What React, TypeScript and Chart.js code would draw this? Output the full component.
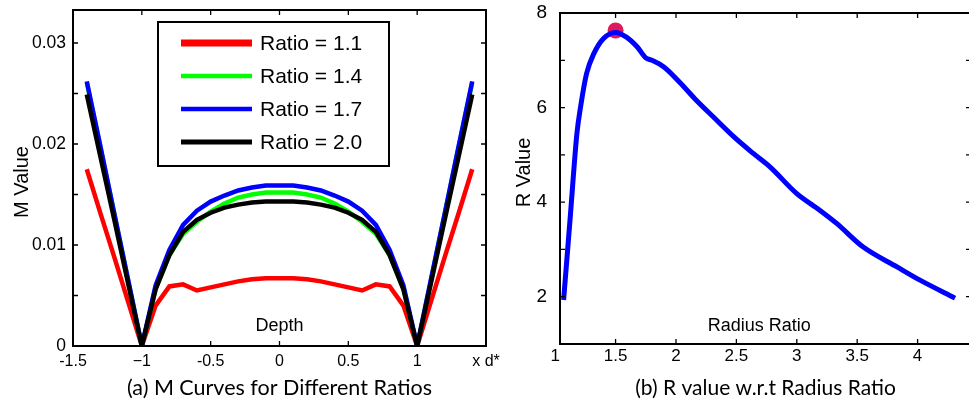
import React, { useEffect, useRef } from "react";
import { Chart, registerables } from "chart.js";

Chart.register(...registerables);

// ---------- Panel (a): M curves ----------
const depth = [
  -1.4, -1.3, -1.2, -1.1, -1.0, -0.9, -0.8, -0.7, -0.6, -0.5, -0.4, -0.3, -0.2, -0.1, 0,
  0.1, 0.2, 0.3, 0.4, 0.5, 0.6, 0.7, 0.8, 0.9, 1.0, 1.1, 1.2, 1.3, 1.4,
];
const mRatio11 = [
  0.0175, 0.0131, 0.0088, 0.0044, 0, 0.004, 0.0059, 0.0061, 0.0055, 0.0058, 0.0061, 0.0064, 0.0066, 0.0067, 0.0067,
  0.0067, 0.0066, 0.0064, 0.0061, 0.0058, 0.0055, 0.0061, 0.0059, 0.004, 0, 0.0044, 0.0088, 0.0131, 0.0175,
];
const mRatio14 = [
  0.0261, 0.0196, 0.0131, 0.0065, 0, 0.0057, 0.009, 0.0111, 0.0123, 0.0133, 0.0141, 0.0147, 0.015, 0.0152, 0.0152,
  0.0152, 0.015, 0.0147, 0.0141, 0.0133, 0.0123, 0.0111, 0.009, 0.0057, 0, 0.0065, 0.0131, 0.0196, 0.0261,
];
const mRatio17 = [
  0.0262, 0.0197, 0.0131, 0.0066, 0, 0.006, 0.0095, 0.012, 0.0134, 0.0143, 0.0149, 0.0154, 0.0157, 0.0159, 0.0159,
  0.0159, 0.0157, 0.0154, 0.0149, 0.0143, 0.0134, 0.012, 0.0095, 0.006, 0, 0.0066, 0.0131, 0.0197, 0.0262,
];
const mRatio20 = [
  0.0249, 0.0187, 0.0125, 0.0062, 0, 0.0056, 0.009, 0.0113, 0.0125, 0.0132, 0.0137, 0.014, 0.0142, 0.0143, 0.0143,
  0.0143, 0.0142, 0.014, 0.0137, 0.0132, 0.0125, 0.0113, 0.009, 0.0056, 0, 0.0062, 0.0125, 0.0187, 0.0249,
];
const ratioLabels = ["Ratio = 1.1", "Ratio = 1.4", "Ratio = 1.7", "Ratio = 2.0"];
const ratioColors = ["#ff0000", "#00ff00", "#0000ff", "#000000"];
const depthTicks = [-1.5, -1, -0.5, 0, 0.5, 1, 1.5];
const depthTickLabels = ["-1.5", "\u22121", "-0.5", "0", "0.5", "1", "x d*"];
const mTicks = [0, 0.005, 0.01, 0.015, 0.02, 0.025, 0.03];
const mTickLabels = ["0", "", "0.01", "", "0.02", "", "0.03"];

// ---------- Panel (b): R value ----------
const radiusRatio = [
  1.07, 1.125, 1.18, 1.21, 1.26, 1.32, 1.4, 1.5, 1.59, 1.68, 1.75, 1.8, 1.9, 2.04, 2.17, 2.31, 2.48, 2.64, 2.78,
  3.0, 3.19, 3.33, 3.55, 3.83, 4.02, 4.31,
];
const rValue = [
  1.93, 3.69, 5.45, 6.01, 6.72, 7.14, 7.46, 7.59, 7.49, 7.28, 7.05, 7.0, 6.86, 6.51, 6.15, 5.8, 5.38, 5.03, 4.74,
  4.18, 3.83, 3.55, 3.05, 2.63, 2.35, 1.97,
];
const bestRatio = [1.5];
const bestR = [7.63];
const ratioTicks = [1, 1.5, 2, 2.5, 3, 3.5, 4];
const ratioTickLabels = ["1", "1.5", "2", "2.5", "3", "3.5", "4"];
const rTicks = [1, 2, 3, 4, 5, 6, 7, 8];
const rTickLabels = ["", "2", "", "4", "", "6", "", "8"];

const SANS = '"Liberation Sans", Arial, sans-serif';
const CAPTION = 'Lato, "Open Sans", sans-serif';

type FrameCfg = {
  xMarks: number[];
  yMarks: number[];
  yTitle: string;
  yTitleX: number;
  yTitleDy: number;
  yTitleSize: number;
  innerTitle: string;
  innerTitleFrac: number;
  innerTitleY: number;
  caption: string;
  captionY: number;
  captionSize: number;
  legend?: { labels: string[]; colors: string[]; widths: number[] };
};

function framePlugin(cfg: FrameCfg) {
  return {
    id: "frame",
    afterDatasetsDraw(chart: any) {
      const { ctx, chartArea: a, scales } = chart;
      const xs = scales.x;
      const ys = scales.y;
      const tl = 5;
      ctx.save();
      ctx.strokeStyle = "#000";
      ctx.lineWidth = 1.3;
      ctx.beginPath();
      for (const v of cfg.xMarks) {
        const p = xs.getPixelForValue(v);
        if (p < a.left + 2 || p > a.right - 2) continue;
        ctx.moveTo(p, a.bottom);
        ctx.lineTo(p, a.bottom - tl);
        ctx.moveTo(p, a.top);
        ctx.lineTo(p, a.top + tl);
      }
      for (const v of cfg.yMarks) {
        const p = ys.getPixelForValue(v);
        if (p < a.top + 2 || p > a.bottom - 2) continue;
        ctx.moveTo(a.left, p);
        ctx.lineTo(a.left + tl, p);
        ctx.moveTo(a.right, p);
        ctx.lineTo(a.right - tl, p);
      }
      ctx.stroke();
      ctx.lineWidth = 2;
      ctx.strokeRect(a.left, a.top, a.right - a.left, a.bottom - a.top);

      ctx.fillStyle = "#000";
      // y title
      ctx.save();
      ctx.translate(cfg.yTitleX, (a.top + a.bottom) / 2 + cfg.yTitleDy);
      ctx.rotate(-Math.PI / 2);
      ctx.font = `${cfg.yTitleSize}px ${SANS}`;
      ctx.textAlign = "center";
      ctx.textBaseline = "middle";
      ctx.fillText(cfg.yTitle, 0, 0);
      ctx.restore();
      // inner x title
      ctx.font = `18px ${SANS}`;
      ctx.textAlign = "center";
      ctx.textBaseline = "middle";
      ctx.fillText(cfg.innerTitle, a.left + (a.right - a.left) * cfg.innerTitleFrac, cfg.innerTitleY);
      // caption
      ctx.font = `${cfg.captionSize}px ${CAPTION}`;
      ctx.fillText(cfg.caption, (a.left + a.right) / 2, cfg.captionY);

      // legend
      if (cfg.legend) {
        const L = cfg.legend;
        const bx = 158, by = 22, bw = 231, bh = 144;
        ctx.fillStyle = "#fff";
        ctx.fillRect(bx, by, bw, bh);
        ctx.lineWidth = 2;
        ctx.strokeStyle = "#000";
        ctx.strokeRect(bx, by, bw, bh);
        const rows = [43, 76, 109, 142];
        ctx.font = `21px ${SANS}`;
        ctx.textAlign = "left";
        ctx.textBaseline = "middle";
        L.labels.forEach((lab, i) => {
          ctx.strokeStyle = L.colors[i];
          ctx.lineWidth = L.widths[i];
          ctx.beginPath();
          ctx.moveTo(181, rows[i]);
          ctx.lineTo(252, rows[i]);
          ctx.stroke();
          ctx.fillStyle = "#000";
          ctx.fillText(lab, 260, rows[i] + 1);
        });
      }
      ctx.restore();
    },
  };
}

function tickFont(size: number) {
  return { family: SANS, size };
}

function noPad(s: any) {
  s.paddingLeft = 0;
  s.paddingRight = 0;
  s.paddingTop = 0;
  s.paddingBottom = 0;
}

function makeLeftConfig(): any {
  const series = [mRatio11, mRatio14, mRatio17, mRatio20];
  return {
    type: "line",
    data: {
      datasets: series.map((vals, i) => ({
        label: ratioLabels[i],
        data: depth.map((x, j) => ({ x, y: vals[j] })),
        borderColor: ratioColors[i],
        backgroundColor: ratioColors[i],
        borderWidth: 4.5,
        pointRadius: 0,
        tension: 0,
        order: 3 - i,
      })),
    },
    options: {
      responsive: false,
      animation: false,
      events: [],
      layout: { autoPadding: false, padding: { top: 10, right: 14, left: 0, bottom: 0 } },
      plugins: { legend: { display: false }, title: { display: false }, tooltip: { enabled: false } },
      scales: {
        x: {
          type: "linear",
          min: -1.5,
          max: 1.5,
          grid: { display: false, drawTicks: false },
          border: { display: false },
          afterBuildTicks: (s: any) => {
            s.ticks = depthTicks.map((v) => ({ value: v }));
          },
          afterFit: (s: any) => {
            s.height = 56;
            noPad(s);
          },
          ticks: {
            autoSkip: false,
            maxRotation: 0,
            padding: 6,
            color: "#000",
            font: tickFont(16),
            callback: (_v: any, i: number) => depthTickLabels[i],
          },
        },
        y: {
          type: "linear",
          min: 0,
          max: 0.03327,
          grid: { display: false, drawTicks: false },
          border: { display: false },
          afterBuildTicks: (s: any) => {
            s.ticks = mTicks.map((v) => ({ value: v }));
          },
          afterFit: (s: any) => {
            s.width = 73;
            noPad(s);
          },
          ticks: {
            autoSkip: false,
            padding: 7,
            color: "#000",
            font: tickFont(17.5),
            callback: (_v: any, i: number) => mTickLabels[i],
          },
        },
      },
    },
    plugins: [
      framePlugin({
        xMarks: depthTicks,
        yMarks: mTicks,
        yTitle: "M Value",
        yTitleX: 22,
        yTitleDy: 4,
        yTitleSize: 20,
        innerTitle: "Depth",
        innerTitleFrac: 0.5,
        innerTitleY: 326,
        caption: "(a) M Curves for Different Ratios",
        captionY: 388,
        captionSize: 21.5,
        legend: { labels: ratioLabels, colors: ratioColors, widths: [7, 4.5, 4.5, 5] },
      }),
    ],
  };
}

function makeRightConfig(): any {
  return {
    type: "line",
    data: {
      datasets: [
        {
          label: "R value",
          data: radiusRatio.map((x, j) => ({ x, y: rValue[j] })),
          borderColor: "#0000ff",
          borderWidth: 5,
          pointRadius: 0,
          cubicInterpolationMode: "monotone",
          order: 0,
        },
        {
          label: "Best ratio",
          data: bestRatio.map((x, j) => ({ x, y: bestR[j] })),
          showLine: false,
          pointRadius: 8,
          pointBackgroundColor: "#e0185c",
          pointBorderWidth: 0,
          order: 1,
        },
      ],
    },
    options: {
      responsive: false,
      animation: false,
      events: [],
      layout: { autoPadding: false, padding: { top: 13, right: 9, left: 0, bottom: 0 } },
      plugins: { legend: { display: false }, title: { display: false }, tooltip: { enabled: false } },
      scales: {
        x: {
          type: "linear",
          min: 1.04,
          max: 4.442,
          grid: { display: false, drawTicks: false },
          border: { display: false },
          afterBuildTicks: (s: any) => {
            s.ticks = ratioTicks.map((v) => ({ value: v }));
          },
          afterFit: (s: any) => {
            s.height = 58;
            noPad(s);
          },
          ticks: {
            autoSkip: false,
            maxRotation: 0,
            padding: 2,
            color: "#000",
            font: tickFont(17),
            callback: (_v: any, i: number) => ratioTickLabels[i],
          },
        },
        y: {
          type: "linear",
          min: 1,
          max: 8,
          grid: { display: false, drawTicks: false },
          border: { display: false },
          afterBuildTicks: (s: any) => {
            s.ticks = rTicks.map((v) => ({ value: v }));
          },
          afterFit: (s: any) => {
            s.width = 70;
            noPad(s);
          },
          ticks: {
            autoSkip: false,
            padding: 13,
            color: "#000",
            font: tickFont(19),
            callback: (_v: any, i: number) => rTickLabels[i],
          },
        },
      },
    },
    plugins: [
      framePlugin({
        xMarks: ratioTicks,
        yMarks: rTicks,
        yTitle: "R Value",
        yTitleX: 34,
        yTitleDy: -6,
        yTitleSize: 20,
        innerTitle: "Radius Ratio",
        innerTitleFrac: 0.485,
        innerTitleY: 326,
        caption: "(b) R value w.r.t Radius Ratio",
        captionY: 388,
        captionSize: 21,
      }),
    ],
  };
}

function ChartCanvas(props: { make: () => any; left: number; width: number; height: number }) {
  const ref = useRef<HTMLCanvasElement>(null);
  useEffect(() => {
    const chart = new Chart(ref.current as HTMLCanvasElement, props.make());
    return () => chart.destroy();
  }, []);
  return (
    <canvas
      ref={ref}
      width={props.width}
      height={props.height}
      style={{ position: "absolute", left: props.left, top: 0, width: props.width, height: props.height }}
    />
  );
}

export default function App() {
  return (
    <div
      style={{
        position: "fixed",
        left: 0,
        top: 0,
        width: 969,
        height: 402,
        overflow: "hidden",
        background: "#fff",
      }}
    >
      <ChartCanvas make={makeLeftConfig} left={0} width={500} height={402} />
      <ChartCanvas make={makeRightConfig} left={490} width={490} height={402} />
    </div>
  );
}
